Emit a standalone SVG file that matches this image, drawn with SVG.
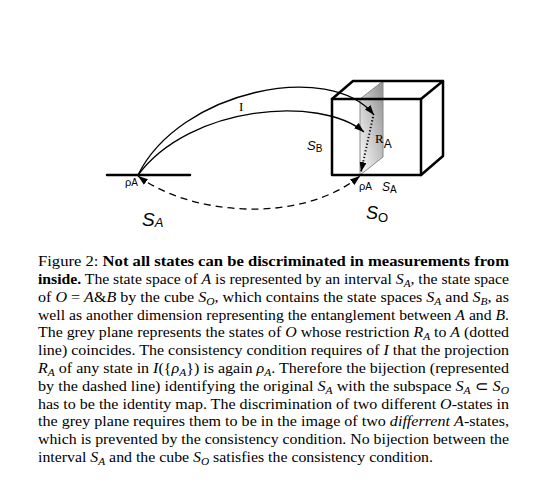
<svg xmlns="http://www.w3.org/2000/svg" width="540" height="490" viewBox="0 0 540 490">
<defs>
<marker id="ah" viewBox="0 0 10 7" refX="10" refY="3.5" markerWidth="10" markerHeight="7" markerUnits="userSpaceOnUse" orient="auto-start-reverse"><path d="M0,0 L10,3.5 L0,7 z" fill="#000"/></marker>
<linearGradient id="gp" x1="1" y1="0" x2="0" y2="1"><stop offset="0" stop-color="#8f8f8f"/><stop offset="1" stop-color="#ffffff"/></linearGradient>
<style>
.thick{stroke:#000;stroke-width:2.5;fill:none;stroke-linecap:round;stroke-linejoin:round}
.conn{stroke:#000;stroke-width:1.3;fill:none}
.sans{font-family:"Liberation Sans",Arial,sans-serif;fill:#000}
.serif{font-family:"Liberation Serif","Times New Roman",serif;fill:#000}
.cap{font-family:"Liberation Serif","Times New Roman",serif;font-size:14px;fill:#000}
.b{font-weight:bold}
.i{font-style:italic}
.sub{font-size:10px}
</style>
</defs>
<rect width="540" height="490" fill="#fff"/>
<g id="interval-SA">
<line class="thick" x1="107" y1="175" x2="190" y2="175"/>
<text class="sans" x="125" y="186" font-size="11">ρ<tspan font-size="10">A</tspan></text>
<text class="sans" x="142" y="226" font-size="19" font-style="italic">S<tspan font-size="13" dy="1">A</tspan></text>
</g>
<g id="cube-SO">
<polygon points="360,99 383,81 383,157 360,175" fill="url(#gp)" stroke="#8a8a8a" stroke-width="1"/>
<rect class="thick" x="332" y="99" width="89" height="76"/>
<polyline class="thick" points="332,99 353,81 443,81 443,156 421,175"/>
<line class="thick" x1="421" y1="99" x2="443" y2="81"/>
<text class="sans" x="307" y="150" font-size="13" font-style="italic">S<tspan font-size="10" dy="2" font-style="normal">B</tspan></text>
<text class="serif" x="375" y="143" font-size="13">R<tspan class="sans" font-size="12" dy="5">A</tspan></text>
<text class="sans" x="359" y="190" font-size="11">ρ<tspan font-size="10">A</tspan></text>
<text class="sans" x="382" y="191" font-size="12" font-style="italic">S<tspan font-size="10" dy="2" font-style="normal">A</tspan></text>
<text class="sans" x="366" y="219" font-size="18" font-style="italic">S<tspan font-size="13" dy="3" font-style="normal">O</tspan></text>
</g>
<g id="connectors">
<path class="conn" d="M138,175 C180,90 330,60 374,115" marker-end="url(#ah)"/>
<path class="conn" d="M138,175 C190,105 320,95 364,132" marker-end="url(#ah)"/>
<text class="serif" x="239" y="111" font-size="13">I</text>
<path class="conn" d="M138,176 C190,215 300,225 360,176" stroke-dasharray="7,5" marker-start="url(#ah)" marker-end="url(#ah)"/>
<path d="M373,117 L361,172" stroke="#000" stroke-width="2" stroke-dasharray="1.2,2.2" fill="none" marker-end="url(#ah)"/>
</g>
<g id="caption">
<text class="cap" x="38" y="266" textLength="471" lengthAdjust="spacingAndGlyphs">Figure 2: <tspan class="b">Not all states can be discriminated in measurements from</tspan></text>
<text class="cap" x="38" y="283.8" textLength="471" lengthAdjust="spacingAndGlyphs"><tspan class="b">inside.</tspan> The state space of <tspan class="i">A</tspan> is represented by an interval <tspan class="i">S</tspan><tspan class="i sub" dy="3">A</tspan><tspan dy="-3">, the state space</tspan></text>
<text class="cap" x="38" y="301.6" textLength="471" lengthAdjust="spacingAndGlyphs">of <tspan class="i">O</tspan> = <tspan class="i">A</tspan>&amp;<tspan class="i">B</tspan> by the cube <tspan class="i">S</tspan><tspan class="i sub" dy="3">O</tspan><tspan dy="-3">, which contains the state spaces </tspan><tspan class="i">S</tspan><tspan class="i sub" dy="3">A</tspan><tspan dy="-3"> and </tspan><tspan class="i">S</tspan><tspan class="i sub" dy="3">B</tspan><tspan dy="-3">, as</tspan></text>
<text class="cap" x="38" y="319.5" textLength="471" lengthAdjust="spacingAndGlyphs">well as another dimension representing the entanglement between <tspan class="i">A</tspan> and <tspan class="i">B</tspan>.</text>
<text class="cap" x="38" y="337.3" textLength="471" lengthAdjust="spacingAndGlyphs">The grey plane represents the states of <tspan class="i">O</tspan> whose restriction <tspan class="i">R</tspan><tspan class="i sub" dy="3">A</tspan><tspan dy="-3"> to </tspan><tspan class="i">A</tspan> (dotted</text>
<text class="cap" x="38" y="355.1" textLength="471" lengthAdjust="spacingAndGlyphs">line) coincides. The consistency condition requires of <tspan class="i">I</tspan> that the projection</text>
<text class="cap" x="38" y="372.9" textLength="471" lengthAdjust="spacingAndGlyphs"><tspan class="i">R</tspan><tspan class="i sub" dy="3">A</tspan><tspan dy="-3"> of any state in </tspan><tspan class="i">I</tspan>({<tspan class="i">ρ</tspan><tspan class="i sub" dy="3">A</tspan><tspan dy="-3">}) is again </tspan><tspan class="i">ρ</tspan><tspan class="i sub" dy="3">A</tspan><tspan dy="-3">. Therefore the bijection (represented</tspan></text>
<text class="cap" x="38" y="390.7" textLength="471" lengthAdjust="spacingAndGlyphs">by the dashed line) identifying the original <tspan class="i">S</tspan><tspan class="i sub" dy="3">A</tspan><tspan dy="-3"> with the subspace </tspan><tspan class="i">S</tspan><tspan class="i sub" dy="3">A</tspan><tspan dy="-3"> ⊂ </tspan><tspan class="i">S</tspan><tspan class="i sub" dy="3">O</tspan></text>
<text class="cap" x="38" y="408.6" textLength="471" lengthAdjust="spacingAndGlyphs">has to be the identity map. The discrimination of two different <tspan class="i">O</tspan>-states in</text>
<text class="cap" x="38" y="426.4" textLength="471" lengthAdjust="spacingAndGlyphs">the grey plane requires them to be in the image of two <tspan class="i">differrent</tspan> <tspan class="i">A</tspan>-states,</text>
<text class="cap" x="38" y="444.2" textLength="471" lengthAdjust="spacingAndGlyphs">which is prevented by the consistency condition. No bijection between the</text>
<text class="cap" x="38" y="462" textLength="395" lengthAdjust="spacingAndGlyphs">interval <tspan class="i">S</tspan><tspan class="i sub" dy="3">A</tspan><tspan dy="-3"> and the cube </tspan><tspan class="i">S</tspan><tspan class="i sub" dy="3">O</tspan><tspan dy="-3"> satisfies the consistency condition.</tspan></text>
</g>
</svg>
